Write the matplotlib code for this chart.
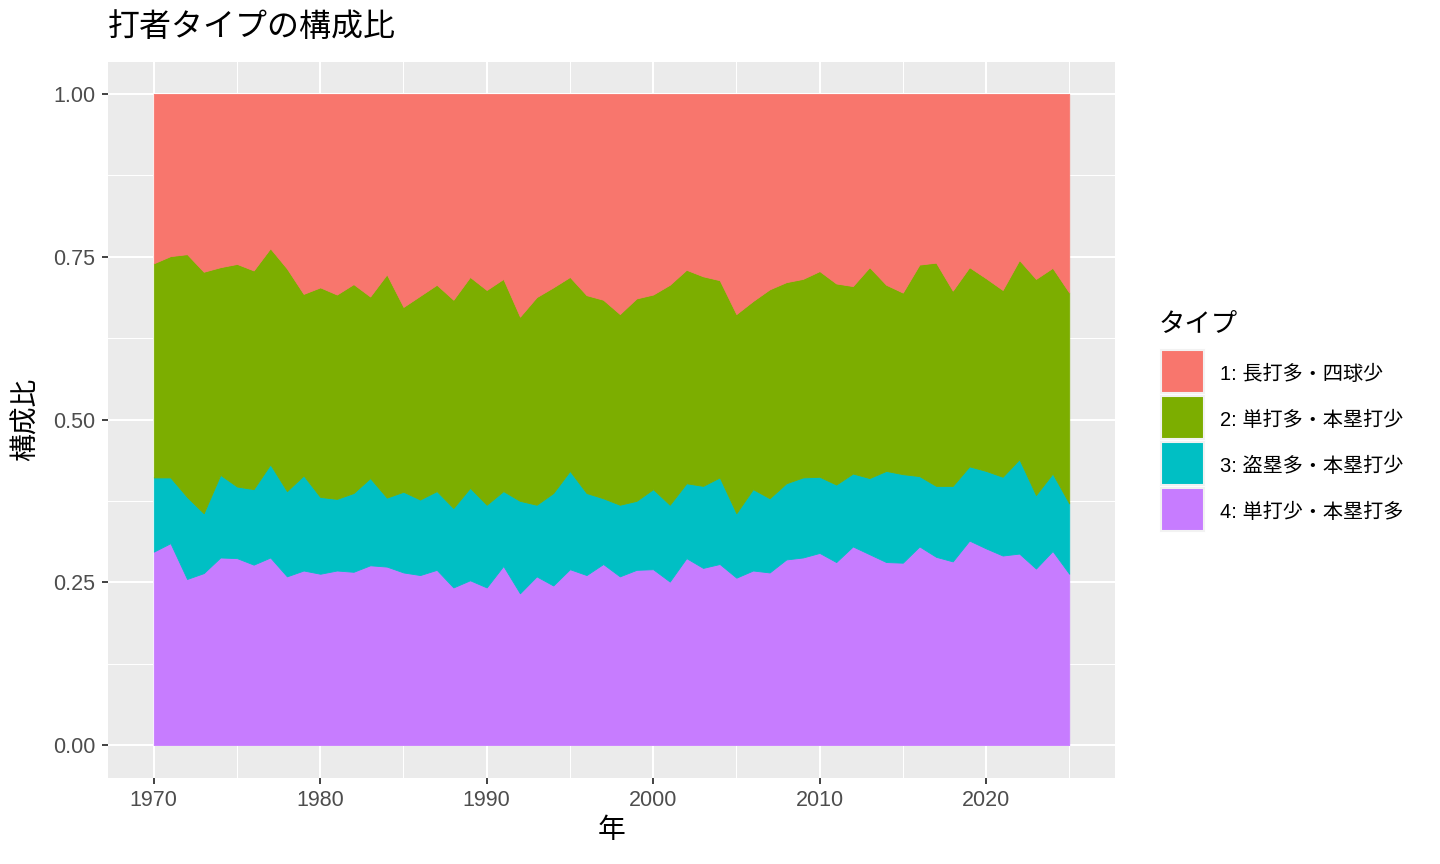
import numpy as np
import matplotlib
matplotlib.use("Agg")
from matplotlib import pyplot as plt
from matplotlib.patches import Rectangle

plt.rcParams['font.family'] = ['Liberation Sans', 'Noto Sans CJK JP', 'DejaVu Sans']

years = list(range(1970, 2026))

# share of each batter type per year
type1 = [0.260, 0.249, 0.246, 0.273, 0.266, 0.261, 0.271, 0.237, 0.268, 0.307,
         0.297, 0.308, 0.292, 0.311, 0.277, 0.327, 0.310, 0.293, 0.316, 0.281,
         0.301, 0.284, 0.342, 0.312, 0.297, 0.281, 0.309, 0.316, 0.338, 0.314,
         0.308, 0.293, 0.270, 0.280, 0.286, 0.338, 0.318, 0.300, 0.289, 0.284,
         0.272, 0.291, 0.295, 0.266, 0.293, 0.305, 0.262, 0.259, 0.302, 0.266,
         0.283, 0.301, 0.255, 0.284, 0.267, 0.305]
type2 = [0.329, 0.340, 0.373, 0.371, 0.319, 0.342, 0.336, 0.332, 0.342, 0.279,
         0.322, 0.314, 0.321, 0.279, 0.343, 0.284, 0.313, 0.317, 0.320, 0.324,
         0.330, 0.326, 0.283, 0.319, 0.316, 0.298, 0.304, 0.305, 0.293, 0.311,
         0.299, 0.338, 0.328, 0.322, 0.303, 0.306, 0.289, 0.321, 0.309, 0.305,
         0.316, 0.309, 0.288, 0.324, 0.286, 0.279, 0.325, 0.343, 0.300, 0.306,
         0.296, 0.287, 0.306, 0.332, 0.316, 0.324]
type3 = [0.114, 0.101, 0.126, 0.092, 0.127, 0.110, 0.116, 0.143, 0.131, 0.146,
         0.118, 0.110, 0.121, 0.134, 0.106, 0.124, 0.116, 0.121, 0.122, 0.142,
         0.127, 0.115, 0.142, 0.110, 0.142, 0.151, 0.126, 0.101, 0.110, 0.106,
         0.123, 0.118, 0.115, 0.126, 0.133, 0.099, 0.125, 0.114, 0.117, 0.123,
         0.117, 0.119, 0.112, 0.117, 0.140, 0.136, 0.108, 0.109, 0.116, 0.114,
         0.119, 0.121, 0.145, 0.113, 0.119, 0.108]
type4 = [0.297, 0.310, 0.255, 0.264, 0.288, 0.287, 0.277, 0.288, 0.259, 0.268,
         0.263, 0.268, 0.266, 0.276, 0.274, 0.265, 0.261, 0.269, 0.242, 0.253,
         0.242, 0.275, 0.233, 0.259, 0.245, 0.270, 0.261, 0.278, 0.259, 0.269,
         0.270, 0.251, 0.287, 0.272, 0.278, 0.257, 0.268, 0.265, 0.285, 0.288,
         0.295, 0.281, 0.305, 0.293, 0.281, 0.280, 0.305, 0.289, 0.282, 0.314,
         0.302, 0.291, 0.294, 0.271, 0.298, 0.263]

labels = ['1: 長打多・四球少', '2: 単打多・本塁打少', '3: 盗塁多・本塁打少', '4: 単打少・本塁打多']
colors = ['#F8766D', '#7CAE00', '#00BFC4', '#C77CFF']

W, H = 1440, 864


def fx(x):
    return x / W


def fy(y):
    return 1 - y / H


fig = plt.figure(figsize=(14.4, 8.64), dpi=100)
ax = fig.add_axes([fx(108), fy(777.5), (1115 - 108) / W, (777.5 - 61.5) / H])
ax.set_facecolor('#EBEBEB')

# bottom to top: 4, 3, 2, 1
polys = ax.stackplot(years, type4, type3, type2, type1,
                     colors=colors[::-1], linewidth=0.6)
for p, c in zip(polys, colors[::-1]):
    p.set_edgecolor(c)

ax.set_xlim(1967.25, 2027.75)
ax.set_ylim(-0.05, 1.05)
ax.set_xticks([1970, 1980, 1990, 2000, 2010, 2020])
ax.set_xticks([1975, 1985, 1995, 2005, 2015, 2025], minor=True)
ax.set_yticks([0, 0.25, 0.5, 0.75, 1.0])
ax.set_yticks([0.125, 0.375, 0.625, 0.875], minor=True)
ax.set_yticklabels(['0.00', '0.25', '0.50', '0.75', '1.00'])
ax.set_axisbelow(True)
ax.grid(which='major', color='white', lw=1.5)
ax.grid(which='minor', color='white', lw=0.75)
for s in ax.spines.values():
    s.set_visible(False)
ax.tick_params(which='major', length=4, width=1.3, color='#333333',
               labelsize=15.5, labelcolor='#4D4D4D', pad=5)
ax.tick_params(which='minor', length=0)

ax.set_xlabel('年', fontsize=20, labelpad=5)
ax.set_ylabel('構成比', fontsize=20, labelpad=10)

fig.text(fx(108), fy(28), '打者タイプの構成比', fontsize=23, va='center', ha='left')

# legend, drawn like ggplot's guide
fig.text(fx(1159), fy(324), 'タイプ', fontsize=19, va='center', ha='left')
key_w, key_h, pitch = 43, 43, 46
for i, (lab, c) in enumerate(zip(labels, colors)):
    top = 350 + i * pitch
    fig.add_artist(Rectangle((fx(1161), fy(top + key_h)), key_w / W, key_h / H,
                             transform=fig.transFigure, facecolor=c,
                             edgecolor='#F2F2F2', lw=1.5))
    fig.text(fx(1220), fy(top + key_h / 2 + 3), lab, fontsize=14.5, va='center', ha='left')

fig.savefig('out.png', dpi=100)
